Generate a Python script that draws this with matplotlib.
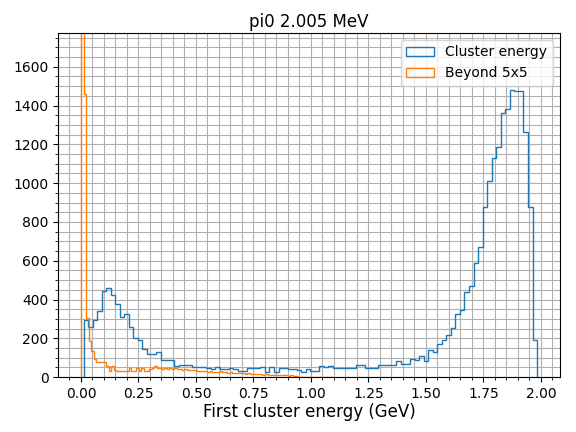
import numpy as np
import matplotlib
matplotlib.use("Agg")
import matplotlib.pyplot as plt

clus_range = (0.011, 1.983)
clus_counts = [
    297, 260, 297, 339, 442, 457, 425, 378, 308, 325,
    260, 200, 194, 146, 120, 120, 129, 86, 86, 86,
    57, 64, 64, 64, 53, 53, 52, 46, 43, 50,
    43, 43, 46, 43, 34, 34, 45, 46, 48, 52,
    24, 50, 28, 46, 45, 43, 43, 38, 26, 40,
    34, 31, 55, 50, 55, 48, 48, 48, 48, 48,
    65, 65, 48, 48, 48, 60, 60, 60, 60, 81,
    70, 70, 91, 86, 107, 81, 138, 127, 169, 189,
    215, 251, 323, 346, 439, 468, 587, 669, 877, 1011,
    1128, 1185, 1364, 1381, 1479, 1474, 1474, 1262, 877, 191,
]

beyond_range = (0.0, 1.096)
beyond_counts = [
    12000, 1459, 303, 186, 134, 93, 77, 77, 77, 77,
    57, 31, 57, 36, 33, 33, 31, 33, 33, 45,
    33, 33, 45, 33, 45, 34, 34, 40, 45, 55,
    45, 45, 40, 45, 43, 45, 40, 45, 41, 43,
    38, 40, 36, 38, 36, 36, 34, 34, 31, 33,
    29, 31, 29, 27, 29, 31, 27, 29, 22, 24,
    21, 22, 19, 22, 19, 17, 19, 16, 17, 15,
    17, 14, 12, 14, 12, 10, 12, 12, 10, 12,
    9, 9, 7, 9, 5, 5, 3, 0, 2, 0,
    0, 2, 0, 0, 2, 0, 0, 2, 0, 1,
]


def bin_centers(rng, n):
    edges = np.linspace(rng[0], rng[1], n + 1)
    return 0.5 * (edges[:-1] + edges[1:])


fig, ax = plt.subplots(figsize=(5.76, 4.32), dpi=100)
fig.subplots_adjust(left=0.101, right=0.972, top=0.924, bottom=0.127)

ax.hist(bin_centers(clus_range, len(clus_counts)), bins=len(clus_counts),
        range=clus_range, weights=clus_counts, histtype="step",
        label="Cluster energy")
ax.hist(bin_centers(beyond_range, len(beyond_counts)), bins=len(beyond_counts),
        range=beyond_range, weights=beyond_counts, histtype="step",
        label="Beyond 5x5")

ax.set_ylim(0, 1.2 * max(clus_counts))
ax.set_title("pi0 2.005 MeV", pad=4)
ax.set_xlabel("First cluster energy (GeV)", fontsize=12, labelpad=1.5)
ax.minorticks_on()
ax.grid(True, which="both")
ax.legend(loc="upper right")

plt.savefig("out.png")
